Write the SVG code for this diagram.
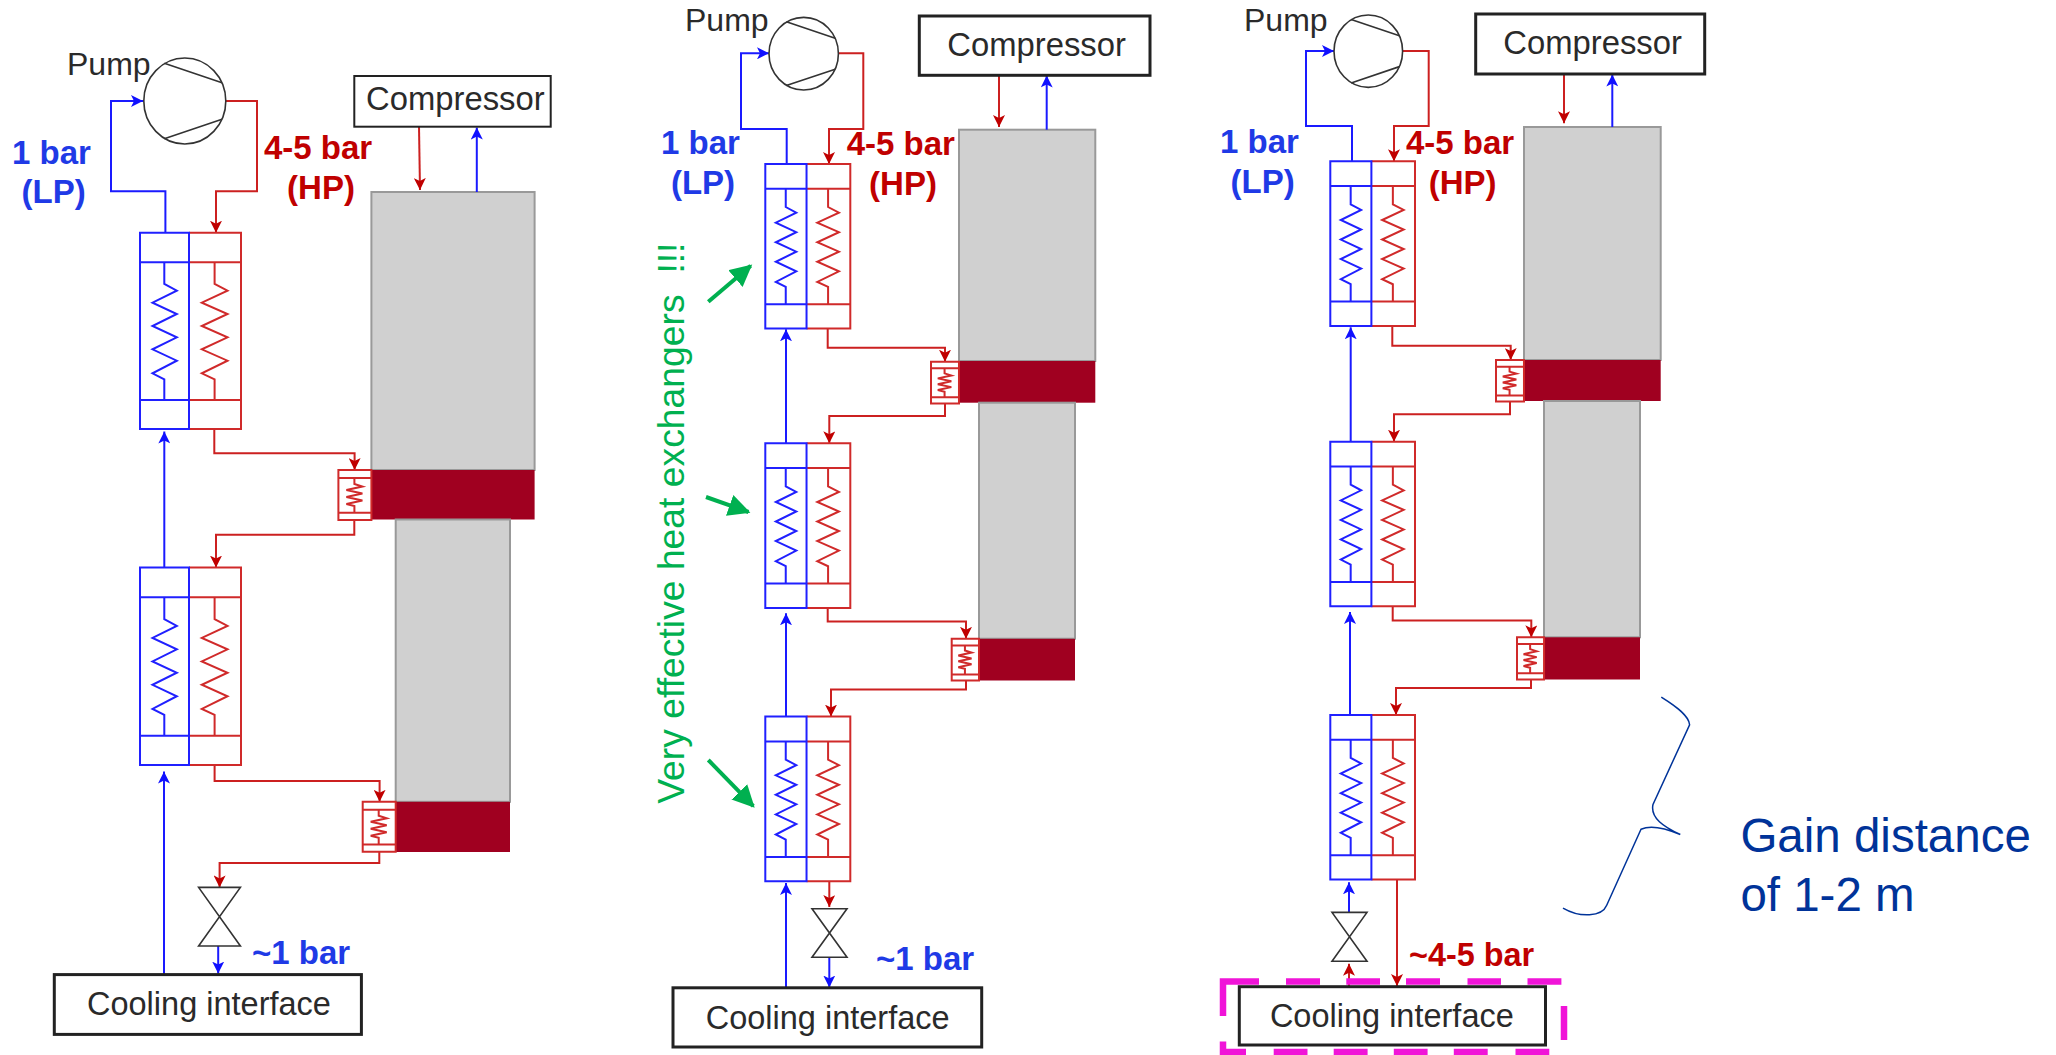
<svg xmlns="http://www.w3.org/2000/svg" width="2056" height="1055" viewBox="0 0 2056 1055">
<style>
text{font-family:"Liberation Sans",Arial,sans-serif}
.ns{vector-effect:non-scaling-stroke;fill:none}
.b{stroke:#2020ff;stroke-width:2}
.r{stroke:#d02a2a;stroke-width:2}
.pipe{fill:none;stroke-width:2;stroke-linejoin:miter}
.pb{stroke:#1a1aff;marker-end:url(#ab)}
.pr{stroke:#cc2020;marker-end:url(#ar)}
.k{stroke:#333;stroke-width:1.6}
.box{fill:#fff;stroke:#222;stroke-width:3}
.col{fill:#d0d0d0;stroke:#999;stroke-width:2}
.hot{fill:#a00020}
.t{font-size:32.8px;fill:#2a2a2a}
.tp{font-size:32px;fill:#2a2a2a}
.tc{font-size:32.5px;fill:#2a2a2a}
.lb{font-size:33px;font-weight:bold;fill:#1f3ae6}
.lr{font-size:33px;font-weight:bold;fill:#c00000}
.m{text-anchor:middle}
.gr{font-size:37.3px;fill:#00b050;white-space:pre}
.ga{fill:none;stroke:#00b050;stroke-width:4;marker-end:url(#ag)}
.gain{font-size:47.5px;fill:#003399}
</style>
<defs>
<marker id="ab" markerUnits="userSpaceOnUse" markerWidth="12" markerHeight="12" refX="12" refY="6" orient="auto"><path d="M0,0L12,6L0,12L3,6Z" fill="#1010ff"/></marker>
<marker id="ar" markerUnits="userSpaceOnUse" markerWidth="12" markerHeight="12" refX="12" refY="6" orient="auto"><path d="M0,0L12,6L0,12L3,6Z" fill="#c00000"/></marker>
<marker id="ag" markerUnits="userSpaceOnUse" markerWidth="24" markerHeight="24" refX="20" refY="11" orient="auto"><path d="M0,0L22,11L0,22Z" fill="#00b050"/></marker>
<g id="hx">
<rect width="101" height="196.3" fill="#fff"/>
<path class="ns r" d="M49,0H101V196.3H49M49,29.6H101M49,167.3H101"/>
<path class="ns b" d="M49,0H0V196.3H49ZM0,29.6H49M0,167.3H49"/>
<path class="ns b" d="M24.3,29.6V51.3L36.8,58L12.5,70L36.8,81.3L12.5,93.3L36.8,104.6L12.5,116.6L36.8,128L12.5,140.6L24.3,146.6V167.3"/>
<path class="ns r" d="M74.6,29.6V51.3L87.5,58L61.8,70L87.5,81.3L61.8,93.3L87.5,104.6L61.8,116.6L87.5,128L61.8,140.6L74.6,146.6V167.3"/>
</g>
<g id="shx">
<rect width="33" height="50" fill="#fff"/>
<path class="ns r" d="M0,0H33V50H0ZM0,8H33M0,42.7H33"/>
<path class="ns r" d="M16,8V14L24,16.5L8,20L24,23.5L8,27L24,30.5L8,34L16,36V42.7"/>
</g>
<g id="pumpsym">
<ellipse cx="0" cy="0" rx="1" ry="1" class="ns k" fill="#fff"/>
<path class="ns k" d="M-.5,-.877L.907,-.426M-.5,.877L.907,.426"/>
</g>
<path id="valvesym" class="ns k" d="M0,0H1L0,1H1Z"/>
</defs>

<g id="d1-col-upper"><rect class="col" x="371.4" y="192" width="163.2" height="278"/><rect class="hot" x="371.4" y="470" width="163.2" height="49.5"/></g>
<g id="d1-col-lower"><rect class="col" x="395.7" y="519.5" width="114.3" height="282.3"/><rect class="hot" x="395.7" y="801.8" width="114.3" height="50.2"/></g>
<g id="d2-col-upper"><rect class="col" x="959" y="129.7" width="136.3" height="231.3"/><rect class="hot" x="959" y="361" width="136.3" height="41.7"/></g>
<g id="d2-col-lower"><rect class="col" x="979" y="402.7" width="96" height="236"/><rect class="hot" x="979" y="638.8" width="96" height="41.7"/></g>
<g id="d3-col-upper"><rect class="col" x="1524" y="127" width="136.7" height="233"/><rect class="hot" x="1524" y="360" width="136.7" height="41"/></g>
<g id="d3-col-lower"><rect class="col" x="1544" y="401" width="96" height="236.3"/><rect class="hot" x="1544" y="637.3" width="96" height="42.2"/></g>

<g id="connectors">
<path class="pipe pb" d="M165.4,232.7V191.3H111V101H143"/>
<path class="pipe pr" d="M225.7,101H257V191.3H216V232.7"/>
<path class="pipe pr" d="M419,126.7L420,190"/>
<path class="pipe pb" d="M476.8,192V127.5"/>
<path class="pipe pr" d="M214.3,429V453.3H354.6V470"/>
<path class="pipe pb" d="M164.3,567.6V431.5"/>
<path class="pipe pr" d="M354.3,520V534.7H216V567.6"/>
<path class="pipe pr" d="M214.6,764.9V781H379.6V801.8"/>
<path class="pipe pr" d="M379.3,852V863H219.6V887.4"/>
<path class="pipe pb" d="M218.2,946V973.6"/>
<path class="pipe pb" d="M164,974.6V771.6"/>

<path class="pipe pb" d="M786.7,164V129H741V53.3H769"/>
<path class="pipe pr" d="M838.3,53.3H863.3V129H829V164"/>
<path class="pipe pr" d="M999,75.3V127"/>
<path class="pipe pb" d="M1046.7,129.7V75.5"/>
<path class="pipe pr" d="M827.7,328.3V347.7H945V361.7"/>
<path class="pipe pr" d="M945,403.3V416H829.3V443.3"/>
<path class="pipe pb" d="M786,443.3V329.3"/>
<path class="pipe pb" d="M786,716.6V613.3"/>
<path class="pipe pr" d="M827.7,607.3V621.4H966V638.8"/>
<path class="pipe pr" d="M966,680.5V689.4H831V716.6"/>
<path class="pipe pb" d="M786,987.8V883"/>
<path class="pipe pr" d="M829.3,881V907"/>
<path class="pipe pb" d="M829.3,957.3V987.5"/>

<path class="pipe pb" d="M1352,161.3V126H1306V51H1334"/>
<path class="pipe pr" d="M1402.7,51H1428.7V126H1394V161.3"/>
<path class="pipe pr" d="M1564,74V123.3"/>
<path class="pipe pb" d="M1612.3,127V74.5"/>
<path class="pipe pr" d="M1392.3,325.7V345.7H1510.7V360"/>
<path class="pipe pr" d="M1510,401.7V414.3H1394V441.7"/>
<path class="pipe pb" d="M1350.7,441.7V327.3"/>
<path class="pipe pb" d="M1350,714.9V611.9"/>
<path class="pipe pr" d="M1392.7,606.2V620.4H1531.3V637.3"/>
<path class="pipe pr" d="M1531,679.5V688H1396V714.9"/>
<path class="pipe pb" d="M1349,912.4V882.3"/>
<path class="pipe pr" d="M1349,986.5V963.7"/>
<path class="pipe pr" d="M1397,879.8V986"/>

<path class="ga" d="M708.3,301.7L750.7,265.7"/>
<path class="ga" d="M706,497L748.5,512"/>
<path class="ga" d="M708.3,760L753.3,806.2"/>
</g>

<g id="d1-hx1" transform="translate(140,232.7)"><use href="#hx"/></g>
<g id="d1-hx2" transform="translate(140,567.6) scale(1,1.005)"><use href="#hx"/></g>
<g id="d1-shx1" transform="translate(338.4,470)"><use href="#shx"/></g>
<g id="d1-shx2" transform="translate(362.7,801.8)"><use href="#shx"/></g>
<g id="d2-hx1" transform="translate(765.3,164) scale(.8416,.8385)"><use href="#hx"/></g>
<g id="d2-hx2" transform="translate(765.3,443.3) scale(.8416,.8385)"><use href="#hx"/></g>
<g id="d2-hx3" transform="translate(765.3,716.6) scale(.8416,.8385)"><use href="#hx"/></g>
<g id="d2-shx1" transform="translate(931,361.7) scale(.848,.834)"><use href="#shx"/></g>
<g id="d2-shx2" transform="translate(951.7,638.8) scale(.827,.834)"><use href="#shx"/></g>
<g id="d3-hx1" transform="translate(1330.3,161.3) scale(.8386,.8385)"><use href="#hx"/></g>
<g id="d3-hx2" transform="translate(1330.3,441.7) scale(.8386,.8385)"><use href="#hx"/></g>
<g id="d3-hx3" transform="translate(1330.3,714.9) scale(.8386,.8385)"><use href="#hx"/></g>
<g id="d3-shx1" transform="translate(1496,360) scale(.848,.83)"><use href="#shx"/></g>
<g id="d3-shx2" transform="translate(1517,637.3) scale(.82,.844)"><use href="#shx"/></g>

<g id="d1-pump" transform="translate(184.8,101) scale(41,43)"><use href="#pumpsym"/></g>
<g id="d2-pump" transform="translate(803.7,53.7) scale(34.7,36.3)"><use href="#pumpsym"/></g>
<g id="d3-pump" transform="translate(1368.3,51.2) scale(34.3,36.2)"><use href="#pumpsym"/></g>

<g id="d1-valve" transform="translate(198.6,887.4) scale(41.8,58.6)"><use href="#valvesym"/></g>
<g id="d2-valve" transform="translate(812,908.8) scale(35,48.5)"><use href="#valvesym"/></g>
<g id="d3-valve" transform="translate(1332,912.4) scale(35,48.8)"><use href="#valvesym"/></g>

<g id="d1-compressor"><rect class="box" style="stroke-width:2" x="354.3" y="76" width="196.4" height="50.7"/><text class="t" x="366" y="110">Compressor</text></g>
<g id="d2-compressor"><rect class="box" x="919.3" y="16" width="230.7" height="59.3"/><text class="t" x="947.3" y="56">Compressor</text></g>
<g id="d3-compressor"><rect class="box" x="1475.7" y="14" width="229" height="60"/><text class="t" x="1503.3" y="54">Compressor</text></g>

<g id="d1-cooling"><rect class="box" x="54.3" y="974.6" width="307.1" height="59.8"/><text class="tc" x="87" y="1015">Cooling interface</text></g>
<g id="d2-cooling"><rect class="box" x="673" y="987.8" width="308.7" height="59.2"/><text class="tc" x="705.7" y="1028.5">Cooling interface</text></g>
<g id="d3-highlight"><path fill="none" stroke="#f014d8" stroke-width="6.5" d="M1223,1016V981.4H1259M1286,981.4H1320M1346.3,981.4H1380M1406,981.4H1440M1467.5,981.4H1501M1527.5,981.4H1561.4M1564,1006V1040M1273.7,1052H1307.5M1333.7,1052H1367.6M1393.8,1052H1427.6M1453.8,1052H1487.7M1515.5,1052H1549.3M1223,1041.6V1052H1246"/></g>
<g id="d3-cooling"><rect class="box" x="1239.3" y="986.7" width="306.2" height="58.3"/><text class="tc" x="1269.9" y="1027.4">Cooling interface</text></g>

<g id="labels">
<text class="tp" x="67" y="75">Pump</text>
<text class="lb" x="12" y="164">1 bar</text><text class="lb m" x="53.6" y="203">(LP)</text>
<text class="lr" x="264" y="159">4-5 bar</text><text class="lr m" x="321" y="199">(HP)</text>
<text class="lb" x="252" y="964">~1 bar</text>

<text class="tp" x="685" y="30.7">Pump</text>
<text class="lb" x="661" y="154">1 bar</text><text class="lb m" x="703" y="193.5">(LP)</text>
<text class="lr" x="846.7" y="155">4-5 bar</text><text class="lr m" x="903" y="195">(HP)</text>
<text class="lb" x="876" y="970">~1 bar</text>
<text class="gr" transform="translate(683.5,803.7) rotate(-90)">Very effective heat exchangers  !!!</text>

<text class="tp" x="1244" y="30.7">Pump</text>
<text class="lb" x="1220" y="152.7">1 bar</text><text class="lb m" x="1262.7" y="192.5">(LP)</text>
<text class="lr" x="1406" y="154">4-5 bar</text><text class="lr m" x="1462.7" y="193.5">(HP)</text>
<text class="lr" x="1409" y="966" style="font-size:32.4px">~4-5 bar</text>

<text class="gain" x="1740.4" y="852">Gain distance</text>
<text class="gain" x="1740.4" y="910.6">of 1-2 m</text>
</g>
<path id="brace" fill="none" stroke="#003399" stroke-width="1.5" d="M1661.3,697.2C1677,707 1689,716 1689.6,724.8L1653,804.4C1650,818 1664,827 1680.3,834.5C1665,828 1650,825 1641,829.2L1606.7,905.3C1602,917 1580,918 1563,908.1"/>
</svg>
